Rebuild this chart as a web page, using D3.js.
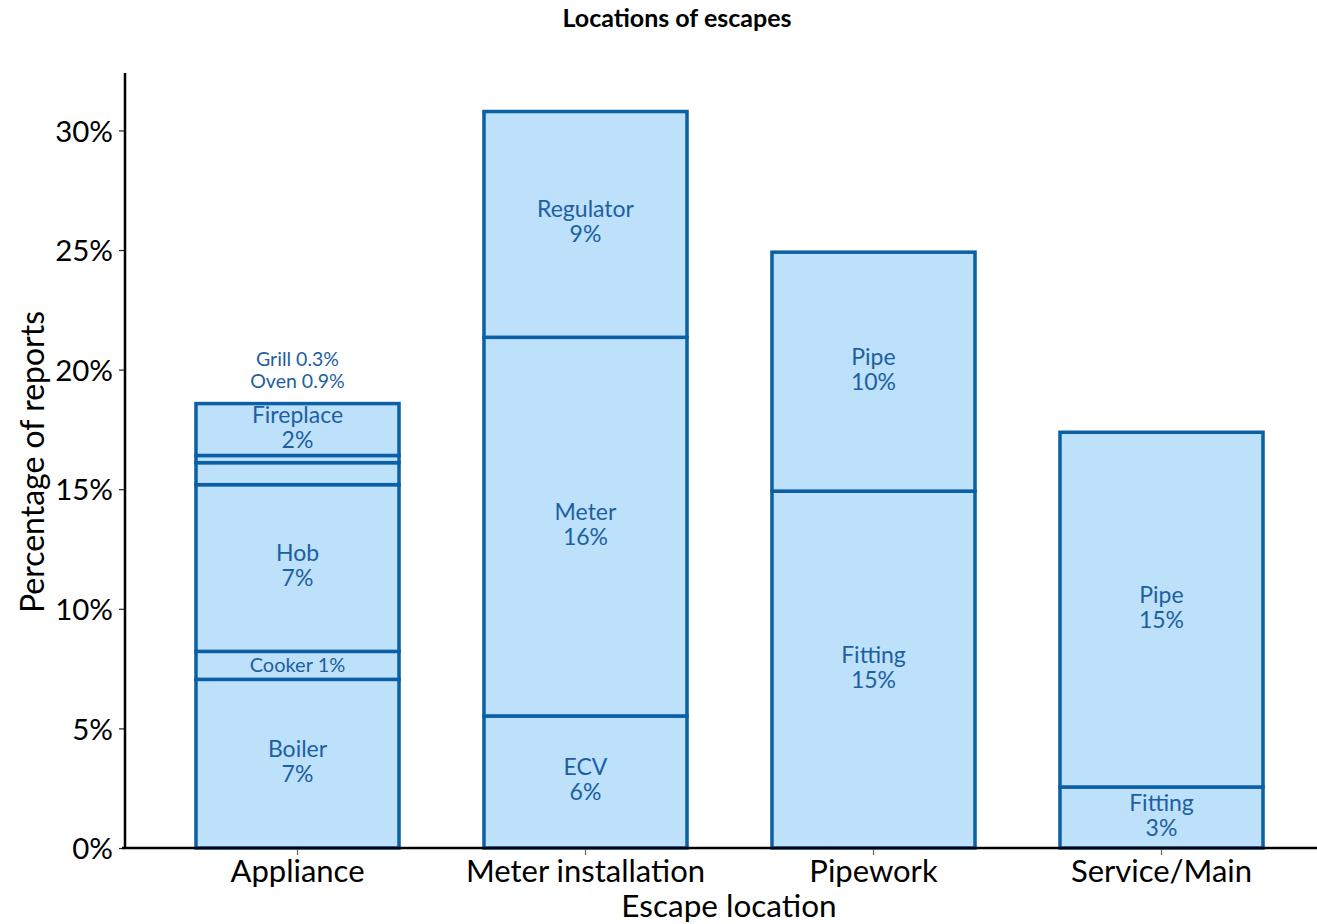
<!DOCTYPE html>
<html>
<head>
<meta charset="utf-8">
<script src="https://cdnjs.cloudflare.com/ajax/libs/d3/7.8.5/d3.min.js"></script>
<style>
  body { margin: 0; background: #fff; }
  svg text { font-family: Lato, "Open Sans", sans-serif; }
</style>
</head>
<body>
<div id="chart"></div>
<script>
// categories along the x axis
var categories = ["Appliance", "Meter installation", "Pipework", "Service/Main"];

// stacked parts of each bar, bottom to top (percent of reports)
var applianceParts  = ["Boiler", "Cooker", "Hob", "Oven", "Grill", "Fireplace"];
var applianceValues = [7.05, 1.17, 6.97, 0.92, 0.3, 2.17];
var applianceLabels = ["7%", "1%", "7%", "0.9%", "0.3%", "2%"];

var meterParts  = ["ECV", "Meter", "Regulator"];
var meterValues = [5.52, 15.83, 9.44];
var meterLabels = ["6%", "16%", "9%"];

var pipeworkParts  = ["Fitting", "Pipe"];
var pipeworkValues = [14.92, 9.99];
var pipeworkLabels = ["15%", "10%"];

var serviceParts  = ["Fitting", "Pipe"];
var serviceValues = [2.55, 14.83];
var serviceLabels = ["3%", "15%"];

var yTicks = [0, 5, 10, 15, 20, 25, 30];

(function() {
    var width = 1317, height = 924;
    var fillCol = "#bde1fb", strokeCol = "#0b5fa5", textCol = "#1d60a0";

    var svg = d3.select("#chart").append("svg")
        .attr("width", width)
        .attr("height", height);

    var x = d3.scaleBand()
        .domain(categories)
        .range([153.5, 1305.5])
        .paddingInner(0.295)
        .paddingOuter(0.1475);

    var y = d3.scaleLinear()
        .domain([0, 32.4])
        .range([848, 73]);

    // build the stacked segments
    var groups = [
        {cat: categories[0], parts: applianceParts, values: applianceValues, labels: applianceLabels},
        {cat: categories[1], parts: meterParts, values: meterValues, labels: meterLabels},
        {cat: categories[2], parts: pipeworkParts, values: pipeworkValues, labels: pipeworkLabels},
        {cat: categories[3], parts: serviceParts, values: serviceValues, labels: serviceLabels}
    ];
    var segments = [];
    groups.forEach(function(g) {
        var base = 0;
        g.parts.forEach(function(p, i) {
            segments.push({cat: g.cat, name: p, label: g.labels[i], y0: base, y1: base + g.values[i]});
            base += g.values[i];
        });
        g.total = base;
    });

    // bars
    svg.append("g").selectAll("rect")
        .data(segments)
        .enter().append("rect")
        .attr("x", function(d) { return x(d.cat); })
        .attr("width", x.bandwidth())
        .attr("y", function(d) { return y(d.y1); })
        .attr("height", function(d) { return y(d.y0) - y(d.y1); })
        .style("fill", fillCol)
        .style("stroke", strokeCol)
        .style("stroke-width", 3.5);

    // labels inside the segments
    var lbl = svg.append("g").attr("fill", textCol).attr("text-anchor", "middle");
    segments.forEach(function(d) {
        var cx = x(d.cat) + x.bandwidth() / 2;
        var mid = (y(d.y0) + y(d.y1)) / 2;
        var h = y(d.y0) - y(d.y1);
        if (d.y1 - d.y0 < 1) return; // tiny parts are labelled above the bar
        if (h < 40) {
            lbl.append("text").attr("x", cx).attr("y", mid + 7)
                .style("font-size", "20px").text(d.name + " " + d.label);
        } else {
            lbl.append("text").attr("x", cx).attr("y", mid - 7)
                .style("font-size", "23px").text(d.name);
            lbl.append("text").attr("x", cx).attr("y", mid + 18)
                .style("font-size", "23px").text(d.label);
        }
    });

    // tiny parts stacked above their bar
    groups.forEach(function(g) {
        var small = segments.filter(function(d) { return d.cat === g.cat && d.y1 - d.y0 < 1; });
        if (!small.length) return;
        var cx = x(g.cat) + x.bandwidth() / 2;
        small.forEach(function(d, i) {
            lbl.append("text")
                .attr("x", cx)
                .attr("y", y(g.total) - 16 - i * 22)
                .style("font-size", "19.5px")
                .text(d.name + " " + d.label);
        });
    });

    // y axis
    var yAxis = svg.append("g")
        .attr("transform", "translate(125,0)")
        .call(d3.axisLeft(y).tickValues(yTicks).tickSize(6).tickPadding(6)
            .tickFormat(function(d) { return d + "%"; }));
    yAxis.select(".domain").remove();
    yAxis.append("line").attr("x1", 0).attr("x2", 0).attr("y1", 73).attr("y2", 849)
        .attr("stroke", "#000").attr("stroke-width", 2.5);
    yAxis.selectAll(".tick line").attr("stroke", "#222").attr("stroke-width", 1.2);
    yAxis.selectAll(".tick text").style("font-size", "29.5px").attr("fill", "#000").attr("dy", "0.36em");

    // x axis
    var xAxis = svg.append("g")
        .attr("transform", "translate(0,848)")
        .call(d3.axisBottom(x).tickSize(7).tickPadding(6));
    xAxis.select(".domain").remove();
    xAxis.append("line").attr("x1", 122).attr("x2", width).attr("y1", 0).attr("y2", 0)
        .attr("stroke", "#000").attr("stroke-width", 2.5);
    xAxis.selectAll(".tick line").attr("stroke", "#666").attr("stroke-width", 1.2);
    xAxis.selectAll(".tick text").style("font-size", "31px").attr("fill", "#000")
        .attr("y", 34).attr("dy", 0);

    // axis titles
    svg.append("text")
        .attr("x", 729).attr("y", 917)
        .attr("text-anchor", "middle")
        .style("font-size", "31.5px")
        .text("Escape location");

    svg.append("text")
        .attr("transform", "translate(44,462) rotate(-90)")
        .attr("text-anchor", "middle")
        .style("font-size", "32px")
        .text("Percentage of reports");

    svg.append("text")
        .attr("x", 677).attr("y", 27)
        .attr("text-anchor", "middle")
        .style("font-size", "25px")
        .style("font-weight", "bold")
        .text("Locations of escapes");
})();
</script>
</body>
</html>
